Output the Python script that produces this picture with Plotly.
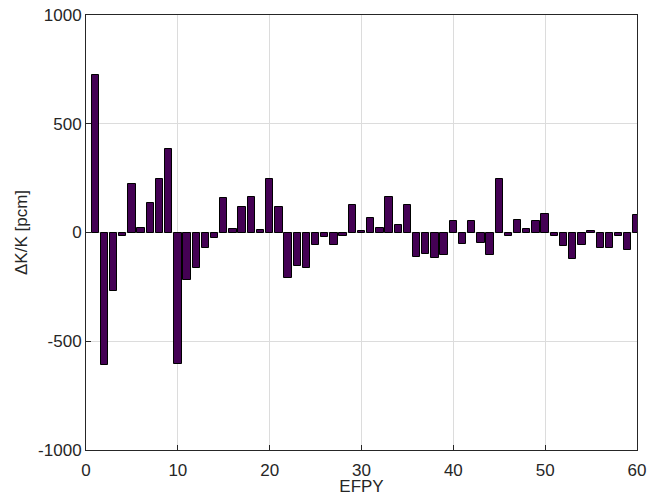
import plotly.graph_objects as go

efpy = list(range(1, 61))
dk = [722, -607, -268, -16, 222, 22, 136, 247, 385, -605,
      -219, -161, -72, -25, 158, 16, 116, 164, 12, 245,
      118, -210, -156, -164, -59, -21, -59, -18, 128, 7,
      68, 22, 165, 33, 125, -113, -99, -118, -105, 52,
      -53, 52, -47, -105, 245, -16, 58, 16, 55, 84,
      -18, -61, -124, -56, 8, -70, -70, -18, -79, 81]

x_ticks = [0, 10, 20, 30, 40, 50, 60]
y_ticks = [-1000, -500, 0, 500, 1000]

fig = go.Figure(go.Bar(
    x=efpy, y=dk, width=0.8,
    marker=dict(color="#440154", line=dict(color="#000000", width=1)),
))

font = dict(family="Liberation Sans, Arial, sans-serif", size=17, color="#262626")
fig.update_layout(
    width=648, height=496,
    margin=dict(l=86, r=11, t=15, b=46),
    paper_bgcolor="white", plot_bgcolor="white",
    showlegend=False, font=font,
    bargap=0,
)
fig.update_xaxes(
    range=[0, 60], tickvals=x_ticks, ticktext=[str(v) for v in x_ticks],
    showgrid=True, gridcolor="#dcdcdc", gridwidth=1,
    showline=True, linecolor="#262626", linewidth=1, mirror=True,
    ticks="inside", ticklen=5, tickcolor="#262626", zeroline=False,
    ticklabelstandoff=5, automargin=False,
    title=dict(text="EFPY", standoff=8, font=font),
)
fig.update_yaxes(
    range=[-1000, 1000], tickvals=y_ticks, ticktext=[str(v) for v in y_ticks],
    showgrid=True, gridcolor="#dcdcdc", gridwidth=1,
    showline=True, linecolor="#262626", linewidth=1, mirror=True,
    ticks="inside", ticklen=5, tickcolor="#262626", zeroline=False,
    automargin=False,
    title=dict(text="ΔK/K [pcm]", standoff=6, font=font),
)
fig.write_html("out.html")
